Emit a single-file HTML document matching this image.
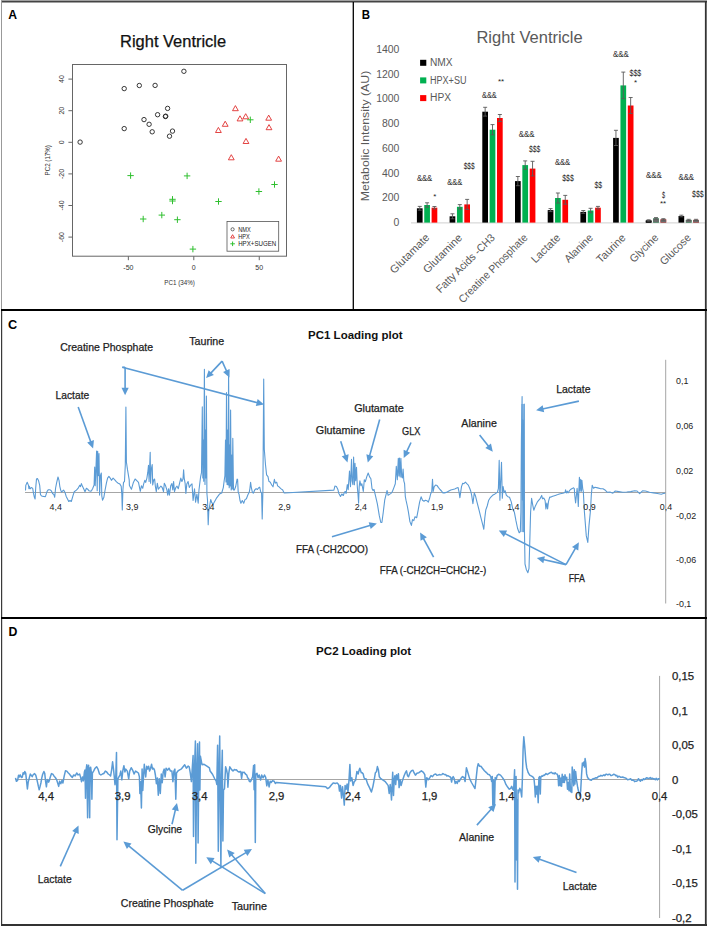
<!DOCTYPE html>
<html><head><meta charset="utf-8"><title>Figure</title>
<style>
html,body{margin:0;padding:0;background:#fff;}
body{width:708px;height:927px;overflow:hidden;}
svg{display:block;font-family:"Liberation Sans", sans-serif;}
</style></head><body>
<svg width="708" height="927" viewBox="0 0 708 927">
<rect width="708" height="927" fill="#fff"/>
<text x="8.2" y="19.0" font-size="12.5" fill="#000" font-weight="bold" textLength="8.8" lengthAdjust="spacingAndGlyphs" >A</text>
<text x="361.7" y="18.8" font-size="12.5" fill="#000" font-weight="bold" textLength="8.3" lengthAdjust="spacingAndGlyphs" >B</text>
<text x="8.0" y="328.6" font-size="12.5" fill="#000" font-weight="bold" textLength="9.2" lengthAdjust="spacingAndGlyphs" >C</text>
<text x="8.5" y="636.0" font-size="12.5" fill="#000" font-weight="bold" textLength="8.9" lengthAdjust="spacingAndGlyphs" >D</text>
<text x="120.1" y="47.4" font-size="16" fill="#111" stroke="#111" stroke-width="0.25" textLength="106.0" lengthAdjust="spacingAndGlyphs" >Right Ventricle</text>
<rect x="72.5" y="64.5" width="214" height="191.7" fill="none" stroke="#666" stroke-width="1"/>
<line x1="68.40" y1="79.10" x2="72.50" y2="79.10" stroke="#666" stroke-width="1" />
<text x="63.6" y="79.1" font-size="7" fill="#333" text-anchor="middle" transform="rotate(-90 63.6 79.1)" >40</text>
<line x1="68.40" y1="110.70" x2="72.50" y2="110.70" stroke="#666" stroke-width="1" />
<text x="63.6" y="110.7" font-size="7" fill="#333" text-anchor="middle" transform="rotate(-90 63.6 110.7)" >20</text>
<line x1="68.40" y1="142.30" x2="72.50" y2="142.30" stroke="#666" stroke-width="1" />
<text x="63.6" y="142.3" font-size="7" fill="#333" text-anchor="middle" transform="rotate(-90 63.6 142.3)" >0</text>
<line x1="68.40" y1="173.90" x2="72.50" y2="173.90" stroke="#666" stroke-width="1" />
<text x="63.6" y="173.9" font-size="7" fill="#333" text-anchor="middle" transform="rotate(-90 63.6 173.9)" >-20</text>
<line x1="68.40" y1="205.50" x2="72.50" y2="205.50" stroke="#666" stroke-width="1" />
<text x="63.6" y="205.5" font-size="7" fill="#333" text-anchor="middle" transform="rotate(-90 63.6 205.5)" >-40</text>
<line x1="68.40" y1="237.10" x2="72.50" y2="237.10" stroke="#666" stroke-width="1" />
<text x="63.6" y="237.1" font-size="7" fill="#333" text-anchor="middle" transform="rotate(-90 63.6 237.1)" >-60</text>
<line x1="128.35" y1="256.20" x2="128.35" y2="260.20" stroke="#666" stroke-width="1" />
<text x="128.4" y="270.3" font-size="7" fill="#333" text-anchor="middle" >-50</text>
<line x1="193.80" y1="256.20" x2="193.80" y2="260.20" stroke="#666" stroke-width="1" />
<text x="193.8" y="270.3" font-size="7" fill="#333" text-anchor="middle" >0</text>
<line x1="259.25" y1="256.20" x2="259.25" y2="260.20" stroke="#666" stroke-width="1" />
<text x="259.2" y="270.3" font-size="7" fill="#333" text-anchor="middle" >50</text>
<text x="179.6" y="285.2" font-size="7" fill="#333" text-anchor="middle" textLength="30.5" lengthAdjust="spacingAndGlyphs" >PC1 (34%)</text>
<text x="49.6" y="160.3" font-size="7" fill="#333" text-anchor="middle" textLength="30.3" lengthAdjust="spacingAndGlyphs" transform="rotate(-90 49.6 160.3)" >PC2 (17%)</text>
<circle cx="183.9" cy="71.3" r="2.2" fill="none" stroke="#222" stroke-width="0.9"/>
<circle cx="124.2" cy="88.6" r="2.2" fill="none" stroke="#222" stroke-width="0.9"/>
<circle cx="139.3" cy="85.5" r="2.2" fill="none" stroke="#222" stroke-width="0.9"/>
<circle cx="155.1" cy="85.4" r="2.2" fill="none" stroke="#222" stroke-width="0.9"/>
<circle cx="167.6" cy="108.4" r="2.2" fill="none" stroke="#222" stroke-width="0.9"/>
<circle cx="157.6" cy="114.7" r="2.2" fill="none" stroke="#222" stroke-width="0.9"/>
<circle cx="165.4" cy="116.5" r="2.2" fill="none" stroke="#222" stroke-width="0.9"/>
<circle cx="165.7" cy="116.2" r="2.2" fill="none" stroke="#222" stroke-width="0.9"/>
<circle cx="144" cy="119.6" r="2.2" fill="none" stroke="#222" stroke-width="0.9"/>
<circle cx="149.1" cy="124.3" r="2.2" fill="none" stroke="#222" stroke-width="0.9"/>
<circle cx="124.2" cy="128.6" r="2.2" fill="none" stroke="#222" stroke-width="0.9"/>
<circle cx="152.2" cy="131.8" r="2.2" fill="none" stroke="#222" stroke-width="0.9"/>
<circle cx="172.5" cy="131.1" r="2.2" fill="none" stroke="#222" stroke-width="0.9"/>
<circle cx="169.5" cy="136.2" r="2.2" fill="none" stroke="#222" stroke-width="0.9"/>
<circle cx="80.1" cy="142.1" r="2.2" fill="none" stroke="#222" stroke-width="0.9"/>
<polygon points="235.4,105.6 232.5,110.7 238.3,110.7" fill="none" stroke="#e0302f" stroke-width="0.9"/>
<polygon points="240.0,115.8 237.1,120.9 242.9,120.9" fill="none" stroke="#e0302f" stroke-width="0.9"/>
<polygon points="245.7,113.7 242.8,118.8 248.6,118.8" fill="none" stroke="#e0302f" stroke-width="0.9"/>
<polygon points="268.7,115.1 265.8,120.2 271.6,120.2" fill="none" stroke="#e0302f" stroke-width="0.9"/>
<polygon points="225.2,121.2 222.3,126.3 228.1,126.3" fill="none" stroke="#e0302f" stroke-width="0.9"/>
<polygon points="269.0,124.6 266.1,129.7 271.9,129.7" fill="none" stroke="#e0302f" stroke-width="0.9"/>
<polygon points="218.4,127.4 215.5,132.5 221.3,132.5" fill="none" stroke="#e0302f" stroke-width="0.9"/>
<polygon points="246.0,138.4 243.1,143.5 248.9,143.5" fill="none" stroke="#e0302f" stroke-width="0.9"/>
<polygon points="231.3,154.7 228.4,159.8 234.2,159.8" fill="none" stroke="#e0302f" stroke-width="0.9"/>
<polygon points="278.6,156.1 275.7,161.2 281.5,161.2" fill="none" stroke="#e0302f" stroke-width="0.9"/>
<line x1="247.10" y1="119.80" x2="253.50" y2="119.80" stroke="#2fbf2f" stroke-width="1" />
<line x1="250.30" y1="116.60" x2="250.30" y2="123.00" stroke="#2fbf2f" stroke-width="1" />
<line x1="127.40" y1="175.60" x2="133.80" y2="175.60" stroke="#2fbf2f" stroke-width="1" />
<line x1="130.60" y1="172.40" x2="130.60" y2="178.80" stroke="#2fbf2f" stroke-width="1" />
<line x1="183.90" y1="175.90" x2="190.30" y2="175.90" stroke="#2fbf2f" stroke-width="1" />
<line x1="187.10" y1="172.70" x2="187.10" y2="179.10" stroke="#2fbf2f" stroke-width="1" />
<line x1="169.30" y1="199.30" x2="175.70" y2="199.30" stroke="#2fbf2f" stroke-width="1" />
<line x1="172.50" y1="196.10" x2="172.50" y2="202.50" stroke="#2fbf2f" stroke-width="1" />
<line x1="169.30" y1="201.00" x2="175.70" y2="201.00" stroke="#2fbf2f" stroke-width="1" />
<line x1="172.50" y1="197.80" x2="172.50" y2="204.20" stroke="#2fbf2f" stroke-width="1" />
<line x1="140.00" y1="219.00" x2="146.40" y2="219.00" stroke="#2fbf2f" stroke-width="1" />
<line x1="143.20" y1="215.80" x2="143.20" y2="222.20" stroke="#2fbf2f" stroke-width="1" />
<line x1="158.60" y1="215.10" x2="165.00" y2="215.10" stroke="#2fbf2f" stroke-width="1" />
<line x1="161.80" y1="211.90" x2="161.80" y2="218.30" stroke="#2fbf2f" stroke-width="1" />
<line x1="174.20" y1="219.70" x2="180.60" y2="219.70" stroke="#2fbf2f" stroke-width="1" />
<line x1="177.40" y1="216.50" x2="177.40" y2="222.90" stroke="#2fbf2f" stroke-width="1" />
<line x1="189.70" y1="249.10" x2="196.10" y2="249.10" stroke="#2fbf2f" stroke-width="1" />
<line x1="192.90" y1="245.90" x2="192.90" y2="252.30" stroke="#2fbf2f" stroke-width="1" />
<line x1="215.30" y1="201.50" x2="221.70" y2="201.50" stroke="#2fbf2f" stroke-width="1" />
<line x1="218.50" y1="198.30" x2="218.50" y2="204.70" stroke="#2fbf2f" stroke-width="1" />
<line x1="255.70" y1="191.50" x2="262.10" y2="191.50" stroke="#2fbf2f" stroke-width="1" />
<line x1="258.90" y1="188.30" x2="258.90" y2="194.70" stroke="#2fbf2f" stroke-width="1" />
<line x1="271.30" y1="184.50" x2="277.70" y2="184.50" stroke="#2fbf2f" stroke-width="1" />
<line x1="274.50" y1="181.30" x2="274.50" y2="187.70" stroke="#2fbf2f" stroke-width="1" />
<rect x="227" y="221.5" width="51.7" height="29.7" fill="#fff" stroke="#555" stroke-width="0.8"/>
<circle cx="232.6" cy="229.3" r="1.6" fill="none" stroke="#333" stroke-width="0.7"/>
<polygon points="232.6,234.7 230.7,238.0 234.5,238.0" fill="none" stroke="#e0302f" stroke-width="0.9"/>
<line x1="230.30" y1="243.80" x2="234.90" y2="243.80" stroke="#2fbf2f" stroke-width="1" />
<line x1="232.60" y1="241.50" x2="232.60" y2="246.10" stroke="#2fbf2f" stroke-width="1" />
<text x="238.2" y="231.8" font-size="7" fill="#222" textLength="12.5" lengthAdjust="spacingAndGlyphs" >NMX</text>
<text x="238.2" y="239.1" font-size="7" fill="#222" textLength="11.5" lengthAdjust="spacingAndGlyphs" >HPX</text>
<text x="238.2" y="246.4" font-size="7" fill="#222" textLength="38.0" lengthAdjust="spacingAndGlyphs" >HPX+SUGEN</text>
<text x="476.4" y="42.8" font-size="16" fill="#595959" textLength="106.3" lengthAdjust="spacingAndGlyphs" >Right Ventricle</text>
<text x="399.4" y="226.1" font-size="10" fill="#595959" text-anchor="end" textLength="5.8" lengthAdjust="spacingAndGlyphs" >0</text>
<text x="399.4" y="201.3" font-size="10" fill="#595959" text-anchor="end" textLength="17.4" lengthAdjust="spacingAndGlyphs" >200</text>
<text x="399.4" y="176.6" font-size="10" fill="#595959" text-anchor="end" textLength="17.4" lengthAdjust="spacingAndGlyphs" >400</text>
<text x="399.4" y="151.8" font-size="10" fill="#595959" text-anchor="end" textLength="17.4" lengthAdjust="spacingAndGlyphs" >600</text>
<text x="399.4" y="127.1" font-size="10" fill="#595959" text-anchor="end" textLength="17.4" lengthAdjust="spacingAndGlyphs" >800</text>
<text x="399.4" y="102.3" font-size="10" fill="#595959" text-anchor="end" textLength="23.2" lengthAdjust="spacingAndGlyphs" >1000</text>
<text x="399.4" y="77.6" font-size="10" fill="#595959" text-anchor="end" textLength="23.2" lengthAdjust="spacingAndGlyphs" >1200</text>
<text x="399.4" y="52.8" font-size="10" fill="#595959" text-anchor="end" textLength="23.2" lengthAdjust="spacingAndGlyphs" >1400</text>
<text x="368.6" y="136.0" font-size="11.3" fill="#595959" text-anchor="middle" textLength="130.5" lengthAdjust="spacingAndGlyphs" transform="rotate(-90 368.6 136.0)" >Metabolic Intensity (AU)</text>
<rect x="420.10" y="59.80" width="6.20" height="6.00" fill="#000"/>
<text x="430.0" y="66.0" font-size="10" fill="#595959" textLength="22.6" lengthAdjust="spacingAndGlyphs" >NMX</text>
<rect x="420.10" y="77.40" width="6.20" height="6.00" fill="#00b050"/>
<text x="430.0" y="83.6" font-size="10" fill="#595959" textLength="36.5" lengthAdjust="spacingAndGlyphs" >HPX+SU</text>
<rect x="420.10" y="95.10" width="6.20" height="6.00" fill="#f00"/>
<text x="430.0" y="101.3" font-size="10" fill="#595959" textLength="21.0" lengthAdjust="spacingAndGlyphs" >HPX</text>
<line x1="411.00" y1="222.90" x2="705.00" y2="222.90" stroke="#d9d9d9" stroke-width="1.2" />
<rect x="416.90" y="208.30" width="5.70" height="14.30" fill="#000"/>
<rect x="424.25" y="205.00" width="5.70" height="17.60" fill="#00b050"/>
<rect x="431.60" y="207.70" width="5.70" height="14.90" fill="#f00"/>
<line x1="419.75" y1="206.40" x2="419.75" y2="210.20" stroke="#595959" stroke-width="0.9" />
<line x1="417.75" y1="206.40" x2="421.75" y2="206.40" stroke="#595959" stroke-width="0.9" />
<line x1="417.75" y1="210.20" x2="421.75" y2="210.20" stroke="#595959" stroke-width="0.9" />
<line x1="427.10" y1="202.80" x2="427.10" y2="207.20" stroke="#595959" stroke-width="0.9" />
<line x1="425.10" y1="202.80" x2="429.10" y2="202.80" stroke="#595959" stroke-width="0.9" />
<line x1="425.10" y1="207.20" x2="429.10" y2="207.20" stroke="#595959" stroke-width="0.9" />
<line x1="434.45" y1="206.50" x2="434.45" y2="208.90" stroke="#595959" stroke-width="0.9" />
<line x1="432.45" y1="206.50" x2="436.45" y2="206.50" stroke="#595959" stroke-width="0.9" />
<line x1="432.45" y1="208.90" x2="436.45" y2="208.90" stroke="#595959" stroke-width="0.9" />
<rect x="449.60" y="216.30" width="5.70" height="6.30" fill="#000"/>
<rect x="456.95" y="206.80" width="5.70" height="15.80" fill="#00b050"/>
<rect x="464.30" y="204.40" width="5.70" height="18.20" fill="#f00"/>
<line x1="452.45" y1="213.80" x2="452.45" y2="218.80" stroke="#595959" stroke-width="0.9" />
<line x1="450.45" y1="213.80" x2="454.45" y2="213.80" stroke="#595959" stroke-width="0.9" />
<line x1="450.45" y1="218.80" x2="454.45" y2="218.80" stroke="#595959" stroke-width="0.9" />
<line x1="459.80" y1="204.60" x2="459.80" y2="209.00" stroke="#595959" stroke-width="0.9" />
<line x1="457.80" y1="204.60" x2="461.80" y2="204.60" stroke="#595959" stroke-width="0.9" />
<line x1="457.80" y1="209.00" x2="461.80" y2="209.00" stroke="#595959" stroke-width="0.9" />
<line x1="467.15" y1="199.40" x2="467.15" y2="209.40" stroke="#595959" stroke-width="0.9" />
<line x1="465.15" y1="199.40" x2="469.15" y2="199.40" stroke="#595959" stroke-width="0.9" />
<line x1="465.15" y1="209.40" x2="469.15" y2="209.40" stroke="#595959" stroke-width="0.9" />
<rect x="482.30" y="111.70" width="5.70" height="110.90" fill="#000"/>
<rect x="489.65" y="129.70" width="5.70" height="92.90" fill="#00b050"/>
<rect x="497.00" y="118.00" width="5.70" height="104.60" fill="#f00"/>
<line x1="485.15" y1="107.30" x2="485.15" y2="116.10" stroke="#595959" stroke-width="0.9" />
<line x1="483.15" y1="107.30" x2="487.15" y2="107.30" stroke="#595959" stroke-width="0.9" />
<line x1="483.15" y1="116.10" x2="487.15" y2="116.10" stroke="#595959" stroke-width="0.9" />
<line x1="492.50" y1="124.60" x2="492.50" y2="134.80" stroke="#595959" stroke-width="0.9" />
<line x1="490.50" y1="124.60" x2="494.50" y2="124.60" stroke="#595959" stroke-width="0.9" />
<line x1="490.50" y1="134.80" x2="494.50" y2="134.80" stroke="#595959" stroke-width="0.9" />
<line x1="499.85" y1="114.50" x2="499.85" y2="121.50" stroke="#595959" stroke-width="0.9" />
<line x1="497.85" y1="114.50" x2="501.85" y2="114.50" stroke="#595959" stroke-width="0.9" />
<line x1="497.85" y1="121.50" x2="501.85" y2="121.50" stroke="#595959" stroke-width="0.9" />
<rect x="515.00" y="181.10" width="5.70" height="41.50" fill="#000"/>
<rect x="522.35" y="165.10" width="5.70" height="57.50" fill="#00b050"/>
<rect x="529.70" y="168.60" width="5.70" height="54.00" fill="#f00"/>
<line x1="517.85" y1="176.50" x2="517.85" y2="185.70" stroke="#595959" stroke-width="0.9" />
<line x1="515.85" y1="176.50" x2="519.85" y2="176.50" stroke="#595959" stroke-width="0.9" />
<line x1="515.85" y1="185.70" x2="519.85" y2="185.70" stroke="#595959" stroke-width="0.9" />
<line x1="525.20" y1="160.90" x2="525.20" y2="169.30" stroke="#595959" stroke-width="0.9" />
<line x1="523.20" y1="160.90" x2="527.20" y2="160.90" stroke="#595959" stroke-width="0.9" />
<line x1="523.20" y1="169.30" x2="527.20" y2="169.30" stroke="#595959" stroke-width="0.9" />
<line x1="532.55" y1="161.30" x2="532.55" y2="175.90" stroke="#595959" stroke-width="0.9" />
<line x1="530.55" y1="161.30" x2="534.55" y2="161.30" stroke="#595959" stroke-width="0.9" />
<line x1="530.55" y1="175.90" x2="534.55" y2="175.90" stroke="#595959" stroke-width="0.9" />
<rect x="547.70" y="210.10" width="5.70" height="12.50" fill="#000"/>
<rect x="555.05" y="198.00" width="5.70" height="24.60" fill="#00b050"/>
<rect x="562.40" y="199.80" width="5.70" height="22.80" fill="#f00"/>
<line x1="550.55" y1="208.60" x2="550.55" y2="211.60" stroke="#595959" stroke-width="0.9" />
<line x1="548.55" y1="208.60" x2="552.55" y2="208.60" stroke="#595959" stroke-width="0.9" />
<line x1="548.55" y1="211.60" x2="552.55" y2="211.60" stroke="#595959" stroke-width="0.9" />
<line x1="557.90" y1="193.00" x2="557.90" y2="203.00" stroke="#595959" stroke-width="0.9" />
<line x1="555.90" y1="193.00" x2="559.90" y2="193.00" stroke="#595959" stroke-width="0.9" />
<line x1="555.90" y1="203.00" x2="559.90" y2="203.00" stroke="#595959" stroke-width="0.9" />
<line x1="565.25" y1="195.40" x2="565.25" y2="204.20" stroke="#595959" stroke-width="0.9" />
<line x1="563.25" y1="195.40" x2="567.25" y2="195.40" stroke="#595959" stroke-width="0.9" />
<line x1="563.25" y1="204.20" x2="567.25" y2="204.20" stroke="#595959" stroke-width="0.9" />
<rect x="580.40" y="211.90" width="5.70" height="10.70" fill="#000"/>
<rect x="587.75" y="210.50" width="5.70" height="12.10" fill="#00b050"/>
<rect x="595.10" y="207.70" width="5.70" height="14.90" fill="#f00"/>
<line x1="583.25" y1="210.50" x2="583.25" y2="213.30" stroke="#595959" stroke-width="0.9" />
<line x1="581.25" y1="210.50" x2="585.25" y2="210.50" stroke="#595959" stroke-width="0.9" />
<line x1="581.25" y1="213.30" x2="585.25" y2="213.30" stroke="#595959" stroke-width="0.9" />
<line x1="590.60" y1="208.30" x2="590.60" y2="212.70" stroke="#595959" stroke-width="0.9" />
<line x1="588.60" y1="208.30" x2="592.60" y2="208.30" stroke="#595959" stroke-width="0.9" />
<line x1="588.60" y1="212.70" x2="592.60" y2="212.70" stroke="#595959" stroke-width="0.9" />
<line x1="597.95" y1="206.40" x2="597.95" y2="209.00" stroke="#595959" stroke-width="0.9" />
<line x1="595.95" y1="206.40" x2="599.95" y2="206.40" stroke="#595959" stroke-width="0.9" />
<line x1="595.95" y1="209.00" x2="599.95" y2="209.00" stroke="#595959" stroke-width="0.9" />
<rect x="613.10" y="137.90" width="5.70" height="84.70" fill="#000"/>
<rect x="620.45" y="85.40" width="5.70" height="137.20" fill="#00b050"/>
<rect x="627.80" y="105.50" width="5.70" height="117.10" fill="#f00"/>
<line x1="615.95" y1="130.30" x2="615.95" y2="145.50" stroke="#595959" stroke-width="0.9" />
<line x1="613.95" y1="130.30" x2="617.95" y2="130.30" stroke="#595959" stroke-width="0.9" />
<line x1="613.95" y1="145.50" x2="617.95" y2="145.50" stroke="#595959" stroke-width="0.9" />
<line x1="623.30" y1="72.10" x2="623.30" y2="98.70" stroke="#595959" stroke-width="0.9" />
<line x1="621.30" y1="72.10" x2="625.30" y2="72.10" stroke="#595959" stroke-width="0.9" />
<line x1="621.30" y1="98.70" x2="625.30" y2="98.70" stroke="#595959" stroke-width="0.9" />
<line x1="630.65" y1="97.50" x2="630.65" y2="113.50" stroke="#595959" stroke-width="0.9" />
<line x1="628.65" y1="97.50" x2="632.65" y2="97.50" stroke="#595959" stroke-width="0.9" />
<line x1="628.65" y1="113.50" x2="632.65" y2="113.50" stroke="#595959" stroke-width="0.9" />
<rect x="645.80" y="220.50" width="5.70" height="2.10" fill="#000"/>
<rect x="653.15" y="218.40" width="5.70" height="4.20" fill="#00b050"/>
<rect x="660.50" y="219.40" width="5.70" height="3.20" fill="#f00"/>
<rect x="645.80" y="220.50" width="5.70" height="2.10" fill="#000"/>
<line x1="648.65" y1="219.80" x2="648.65" y2="221.20" stroke="#595959" stroke-width="0.9" />
<line x1="646.65" y1="219.80" x2="650.65" y2="219.80" stroke="#595959" stroke-width="0.9" />
<line x1="646.65" y1="221.20" x2="650.65" y2="221.20" stroke="#595959" stroke-width="0.9" />
<rect x="653.15" y="218.40" width="5.70" height="4.20" fill="#6a6a6a"/>
<line x1="656.00" y1="217.60" x2="656.00" y2="219.20" stroke="#595959" stroke-width="0.9" />
<line x1="654.00" y1="217.60" x2="658.00" y2="217.60" stroke="#595959" stroke-width="0.9" />
<line x1="654.00" y1="219.20" x2="658.00" y2="219.20" stroke="#595959" stroke-width="0.9" />
<rect x="660.50" y="219.40" width="5.70" height="3.20" fill="#6a6a6a"/>
<line x1="663.35" y1="218.70" x2="663.35" y2="220.10" stroke="#595959" stroke-width="0.9" />
<line x1="661.35" y1="218.70" x2="665.35" y2="218.70" stroke="#595959" stroke-width="0.9" />
<line x1="661.35" y1="220.10" x2="665.35" y2="220.10" stroke="#595959" stroke-width="0.9" />
<rect x="678.50" y="216.00" width="5.70" height="6.60" fill="#000"/>
<rect x="685.85" y="219.90" width="5.70" height="2.70" fill="#00b050"/>
<rect x="693.20" y="219.90" width="5.70" height="2.70" fill="#f00"/>
<line x1="681.35" y1="215.20" x2="681.35" y2="216.80" stroke="#595959" stroke-width="0.9" />
<line x1="679.35" y1="215.20" x2="683.35" y2="215.20" stroke="#595959" stroke-width="0.9" />
<line x1="679.35" y1="216.80" x2="683.35" y2="216.80" stroke="#595959" stroke-width="0.9" />
<rect x="685.85" y="219.90" width="5.70" height="2.70" fill="#6a6a6a"/>
<line x1="688.70" y1="219.30" x2="688.70" y2="220.50" stroke="#595959" stroke-width="0.9" />
<line x1="686.70" y1="219.30" x2="690.70" y2="219.30" stroke="#595959" stroke-width="0.9" />
<line x1="686.70" y1="220.50" x2="690.70" y2="220.50" stroke="#595959" stroke-width="0.9" />
<rect x="693.20" y="219.90" width="5.70" height="2.70" fill="#6a6a6a"/>
<line x1="696.05" y1="219.30" x2="696.05" y2="220.50" stroke="#595959" stroke-width="0.9" />
<line x1="694.05" y1="219.30" x2="698.05" y2="219.30" stroke="#595959" stroke-width="0.9" />
<line x1="694.05" y1="220.50" x2="698.05" y2="220.50" stroke="#595959" stroke-width="0.9" />
<text x="416.9" y="181.3" font-size="8.4" fill="#262626" textLength="15.3" lengthAdjust="spacingAndGlyphs" >&amp;&amp;&amp;</text>
<text x="434.8" y="199.4" font-size="8" fill="#222" text-anchor="middle" >*</text>
<text x="447.2" y="185.0" font-size="8.4" fill="#262626" textLength="15.0" lengthAdjust="spacingAndGlyphs" >&amp;&amp;&amp;</text>
<text x="463.7" y="169.0" font-size="8.4" fill="#262626" textLength="11.0" lengthAdjust="spacingAndGlyphs" >$$$</text>
<text x="482.1" y="98.2" font-size="8.4" fill="#262626" textLength="14.6" lengthAdjust="spacingAndGlyphs" >&amp;&amp;&amp;</text>
<text x="501.1" y="83.8" font-size="8" fill="#222" text-anchor="middle" >**</text>
<text x="518.8" y="137.0" font-size="8.4" fill="#262626" textLength="15.6" lengthAdjust="spacingAndGlyphs" >&amp;&amp;&amp;</text>
<text x="528.9" y="152.0" font-size="8.4" fill="#262626" textLength="11.3" lengthAdjust="spacingAndGlyphs" >$$$</text>
<text x="554.9" y="164.5" font-size="8.4" fill="#262626" textLength="15.2" lengthAdjust="spacingAndGlyphs" >&amp;&amp;&amp;</text>
<text x="562.2" y="180.8" font-size="8.4" fill="#262626" textLength="11.6" lengthAdjust="spacingAndGlyphs" >$$$</text>
<text x="594.5" y="187.8" font-size="8.4" fill="#262626" textLength="7.7" lengthAdjust="spacingAndGlyphs" >$$</text>
<text x="613.1" y="57.2" font-size="8.4" fill="#262626" textLength="15.7" lengthAdjust="spacingAndGlyphs" >&amp;&amp;&amp;</text>
<text x="629.5" y="76.1" font-size="8.4" fill="#262626" textLength="11.8" lengthAdjust="spacingAndGlyphs" >$$$</text>
<text x="635.5" y="84.7" font-size="8" fill="#222" text-anchor="middle" >*</text>
<text x="646.1" y="177.6" font-size="8.4" fill="#262626" textLength="15.7" lengthAdjust="spacingAndGlyphs" >&amp;&amp;&amp;</text>
<text x="661.9" y="198.0" font-size="8.4" fill="#262626" textLength="3.1" lengthAdjust="spacingAndGlyphs" >$</text>
<text x="663.0" y="206.2" font-size="8" fill="#222" text-anchor="middle" >**</text>
<text x="678.5" y="180.4" font-size="8.4" fill="#262626" textLength="15.5" lengthAdjust="spacingAndGlyphs" >&amp;&amp;&amp;</text>
<text x="692.0" y="196.5" font-size="8.4" fill="#262626" textLength="11.7" lengthAdjust="spacingAndGlyphs" >$$$</text>
<text x="430.2" y="238.3" font-size="11" fill="#595959" text-anchor="end" textLength="50.7" lengthAdjust="spacingAndGlyphs" transform="rotate(-45 430.2 238.3)" >Glutamate</text>
<text x="462.9" y="238.3" font-size="11" fill="#595959" text-anchor="end" textLength="50.1" lengthAdjust="spacingAndGlyphs" transform="rotate(-45 462.9 238.3)" >Glutamine</text>
<text x="495.6" y="238.3" font-size="11" fill="#595959" text-anchor="end" textLength="78.0" lengthAdjust="spacingAndGlyphs" transform="rotate(-45 495.6 238.3)" >Fatty Acids -CH3</text>
<text x="528.3" y="238.3" font-size="11" fill="#595959" text-anchor="end" textLength="92.4" lengthAdjust="spacingAndGlyphs" transform="rotate(-45 528.3 238.3)" >Creatine Phosphate</text>
<text x="561.0" y="238.3" font-size="11" fill="#595959" text-anchor="end" textLength="36.1" lengthAdjust="spacingAndGlyphs" transform="rotate(-45 561.0 238.3)" >Lactate</text>
<text x="593.7" y="238.3" font-size="11" fill="#595959" text-anchor="end" textLength="35.4" lengthAdjust="spacingAndGlyphs" transform="rotate(-45 593.7 238.3)" >Alanine</text>
<text x="626.4" y="238.3" font-size="11" fill="#595959" text-anchor="end" textLength="36.1" lengthAdjust="spacingAndGlyphs" transform="rotate(-45 626.4 238.3)" >Taurine</text>
<text x="659.1" y="238.3" font-size="11" fill="#595959" text-anchor="end" textLength="35.4" lengthAdjust="spacingAndGlyphs" transform="rotate(-45 659.1 238.3)" >Glycine</text>
<text x="691.8" y="238.3" font-size="11" fill="#595959" text-anchor="end" textLength="38.9" lengthAdjust="spacingAndGlyphs" transform="rotate(-45 691.8 238.3)" >Glucose</text>
<text x="308.1" y="339.0" font-size="11.4" fill="#111" font-weight="bold" textLength="94.4" lengthAdjust="spacingAndGlyphs" >PC1 Loading plot</text>
<line x1="25.00" y1="492.50" x2="666.00" y2="492.50" stroke="#a6a6a6" stroke-width="1" />
<line x1="665.70" y1="359.80" x2="665.70" y2="603.50" stroke="#a6a6a6" stroke-width="1" />
<rect x="521.2" y="404" width="3.4" height="128" fill="#8ab7e4" opacity="0.85"/><polyline points="25.5,490.5 25.8,485.4 27.2,482.2 28.5,485.4 28.9,488.8 29.3,486.3 30.2,488.8 31.4,487.5 32.7,488.4 33.6,493.9 34.4,497.3 35.1,499.0 35.7,488.0 36.5,479.1 37.4,478.6 38.6,480.8 39.7,485.4 40.5,494.7 41.6,496.0 43.3,496.4 45.4,496.6 47.1,491.4 48.4,489.7 50.1,489.8 51.4,490.9 52.6,493.5 53.9,494.7 54.7,497.3 55.6,488.0 56.6,482.9 58.0,477.0 59.0,480.3 59.8,486.3 60.7,490.1 61.5,492.0 63.6,490.1 64.9,492.2 66.2,496.4 67.9,499.8 68.7,501.5 70.0,500.5 71.3,501.5 73.0,495.6 74.2,491.8 76.4,490.1 78.0,488.4 79.7,485.3 80.5,486.6 81.4,483.6 82.6,486.6 83.9,489.2 85.0,491.7 86.4,488.3 87.7,489.2 89.0,490.8 90.7,491.3 91.5,490.8 92.8,488.3 94.1,484.9 94.7,467.1 95.2,485.8 95.8,472.2 96.6,451.0 97.2,490.8 97.7,451.4 98.3,475.6 99.0,453.6 99.6,495.1 100.4,475.6 101.3,473.0 101.8,495.9 102.5,500.2 103.8,497.6 105.1,490.0 106.4,483.2 107.6,478.1 108.9,476.4 110.2,478.1 111.4,480.3 113.1,478.1 114.8,479.8 116.5,481.9 118.2,483.2 119.9,484.1 121.2,486.2 121.8,494.2 122.3,510.0 122.9,490.0 123.5,482.4 124.5,481.5 125.3,465.0 125.9,407.1 126.4,462.0 127.5,469.7 129.2,479.8 129.4,485.4 131.4,489.3 133.4,482.4 135.1,479.0 136.8,480.7 138.5,482.4 139.7,488.3 140.3,491.3 141.4,485.8 142.7,488.3 143.6,484.1 144.8,480.3 145.7,482.4 146.9,478.1 147.8,472.2 148.5,465.4 149.1,481.5 149.7,465.4 150.2,452.3 150.6,483.2 151.2,469.7 152.2,464.6 152.7,484.9 153.7,479.8 154.6,479.0 155.4,486.6 156.3,491.7 157.3,483.2 158.4,489.2 159.7,487.5 160.9,486.2 162.2,487.5 163.5,491.7 164.3,483.2 165.6,485.8 166.9,490.0 167.7,495.1 168.6,488.7 169.4,495.1 170.7,485.8 171.9,483.6 172.8,490.0 173.6,481.5 174.5,491.7 175.8,487.5 177.0,486.2 178.3,488.7 179.6,483.2 180.8,478.1 181.9,481.5 183.0,479.0 183.6,469.7 184.2,478.1 185.1,483.2 185.9,493.4 186.8,484.1 188.1,481.5 189.3,487.5 190.4,485.4 192.0,483.8 193.1,500.5 194.5,488.7 195.6,502.2 196.9,494.1 198.2,503.2 199.0,489.7 200.6,476.8 201.5,472.7 202.3,406.9 202.8,478.0 203.3,440.0 203.7,481.3 204.4,369.3 205.0,484.5 205.5,430.0 205.9,478.0 206.4,396.0 206.9,493.2 207.5,500.0 208.2,524.8 208.8,511.0 209.3,508.0 210.7,499.5 211.8,502.7 213.1,504.3 216.3,498.4 219.5,494.1 221.7,493.0 223.3,487.6 224.1,481.3 224.9,475.7 225.5,440.0 226.0,482.0 226.5,392.6 227.1,484.5 227.6,430.0 228.1,485.0 228.6,370.2 229.2,487.8 229.7,445.0 230.1,486.0 230.6,410.1 231.2,490.0 231.8,455.0 232.3,489.0 232.8,438.2 233.5,490.0 234.4,490.0 235.7,486.5 237.1,479.1 237.6,479.5 238.2,492.1 239.0,494.1 240.0,500.5 240.9,503.3 242.3,500.6 243.7,503.3 245.0,499.6 246.4,498.7 247.8,495.0 249.2,492.3 249.9,488.6 250.6,482.2 251.2,486.8 252.4,492.3 253.3,493.2 254.7,490.0 256.1,488.6 257.4,489.5 258.8,487.7 259.7,487.2 260.6,491.4 261.6,493.2 262.2,518.9 262.9,491.4 263.7,379.1 264.3,449.2 265.5,464.8 266.6,474.9 268.0,476.7 268.9,481.3 270.3,482.2 271.7,485.0 273.0,486.8 274.4,479.4 275.3,483.1 276.7,482.2 277.6,485.9 279.0,486.8 280.8,488.6 282.7,490.0 284.0,492.8 284.5,493.0 333.9,490.1 334.9,486.1 336.4,486.6 337.9,489.6 338.9,493.5 340.5,496.5 341.8,494.0 343.3,495.5 344.3,492.5 345.3,491.5 346.1,493.5 347.3,484.6 348.2,489.6 349.5,471.1 350.5,486.6 351.5,459.4 352.1,480.8 352.9,484.7 353.6,457.0 354.4,484.7 355.0,463.3 355.7,480.8 356.5,467.2 357.3,486.6 358.0,494.4 358.6,503.1 359.2,486.6 359.9,480.8 360.9,485.6 361.8,483.7 363.3,491.5 364.3,479.8 365.4,481.7 366.7,476.9 368.2,473.0 369.6,476.9 370.9,478.8 372.0,488.5 373.0,490.5 374.0,489.5 375.4,495.3 377.4,504.1 379.3,515.7 380.8,522.5 381.9,522.5 383.2,512.8 384.7,500.2 386.1,494.4 387.1,490.5 388.1,495.3 389.5,494.4 391.0,493.4 392.4,491.5 393.9,487.6 395.3,483.7 396.3,466.2 397.3,479.8 398.3,458.4 398.9,475.9 399.5,458.0 400.2,476.9 400.9,458.4 401.7,476.9 402.4,477.9 403.1,469.1 403.8,480.8 404.6,483.7 405.3,496.3 406.0,500.2 407.3,506.0 408.4,511.8 409.9,521.6 411.4,525.4 412.5,519.6 413.8,520.6 415.0,516.7 416.7,517.7 418.2,509.9 419.6,502.1 421.1,496.8 422.5,500.2 424.0,501.2 425.4,500.2 426.9,500.7 428.3,502.1 429.6,498.3 430.8,493.4 431.7,492.4 432.5,479.3 433.2,491.5 434.2,486.6 435.6,485.1 437.1,485.6 438.5,487.6 440.0,489.5 441.5,491.0 442.9,492.9 444.4,492.9 446.3,492.4 448.9,491.0 450.8,490.0 452.8,489.5 454.7,489.0 456.7,488.1 458.1,487.6 459.1,492.4 459.9,497.8 460.5,493.4 461.5,486.6 462.7,483.2 463.9,483.7 465.4,482.2 466.8,483.7 468.3,485.1 469.8,488.5 470.7,491.0 471.7,495.3 472.9,503.6 473.6,498.3 474.3,492.9 475.6,496.3 477.0,502.1 479.0,509.9 480.9,517.7 482.9,525.4 483.8,529.3 484.8,517.7 485.8,509.9 487.2,506.0 488.7,500.2 490.6,497.3 492.6,495.3 495.0,493.9 497.4,492.4 498.4,488.5 499.2,460.4 499.9,500.2 500.8,478.8 501.5,462.3 502.3,498.3 503.1,486.6 504.2,492.4 505.2,490.8 506.3,495.1 507.9,496.7 509.5,497.2 511.2,501.6 512.8,509.1 514.4,512.3 516.0,520.9 517.6,528.5 519.2,532.8 520.3,531.7 520.9,512.3 521.4,440.0 522.1,396.5 522.4,500.0 522.8,420.0 523.2,531.7 523.6,450.0 524.2,404.0 524.5,533.9 525.0,564.0 526.3,569.4 527.9,572.7 529.0,568.4 529.7,544.7 530.6,512.3 531.6,498.3 532.7,504.8 533.8,510.2 535.4,505.9 537.6,501.6 540.3,498.3 541.7,495.4 542.5,498.8 543.8,498.0 545.1,500.5 545.9,509.0 546.8,503.0 547.6,509.0 548.5,501.4 549.7,497.1 551.0,497.1 552.7,496.3 555.3,495.4 557.8,494.6 560.3,493.7 562.9,493.3 565.0,492.5 565.6,489.9 566.3,492.9 567.3,491.2 568.0,492.9 569.2,491.2 570.5,489.5 572.2,488.6 573.5,487.8 574.3,488.6 574.7,494.6 575.6,503.0 576.4,495.4 577.1,488.2 577.7,495.4 578.3,506.4 578.8,492.0 579.4,477.2 580.0,491.2 580.7,479.3 581.4,491.2 581.9,480.2 582.8,489.5 583.3,491.3 584.4,511.7 586.3,535.9 587.8,542.4 589.0,525.4 590.5,510.2 591.3,495.1 592.2,485.3 593.5,488.3 595.0,487.2 597.7,487.9 600.7,488.7 603.0,488.8 605.4,490.3 607.4,492.3 609.9,492.0 612.9,493.2 615.3,491.0 618.8,491.6 622.7,492.3 626.7,492.0 630.7,491.6 634.6,490.8 637.1,491.0 639.6,493.7 642.5,490.8 645.5,491.0 649.5,492.3 653.4,492.9 657.4,493.5 661.3,494.2 663.3,493.5 665.3,493.2" fill="none" stroke="#5b9bd5" stroke-width="1.1" stroke-linejoin="round"/>
<text x="676.0" y="384.4" font-size="8.9" fill="#222" >0,1</text>
<text x="676.0" y="429.4" font-size="8.9" fill="#222" >0,06</text>
<text x="676.0" y="474.0" font-size="8.9" fill="#222" >0,02</text>
<text x="676.0" y="518.6" font-size="8.9" fill="#222" >-0,02</text>
<text x="676.0" y="563.2" font-size="8.9" fill="#222" >-0,06</text>
<text x="676.0" y="607.4" font-size="8.9" fill="#222" >-0,1</text>
<text x="55.7" y="509.9" font-size="8.9" fill="#222" text-anchor="middle" >4,4</text>
<text x="132.2" y="509.9" font-size="8.9" fill="#222" text-anchor="middle" >3,9</text>
<text x="208.3" y="509.9" font-size="8.9" fill="#222" text-anchor="middle" >3,4</text>
<text x="284.5" y="509.9" font-size="8.9" fill="#222" text-anchor="middle" >2,9</text>
<text x="360.8" y="509.9" font-size="8.9" fill="#222" text-anchor="middle" >2,4</text>
<text x="437.1" y="509.9" font-size="8.9" fill="#222" text-anchor="middle" >1,9</text>
<text x="513.4" y="509.9" font-size="8.9" fill="#222" text-anchor="middle" >1,4</text>
<text x="589.5" y="509.9" font-size="8.9" fill="#222" text-anchor="middle" >0,9</text>
<text x="666.0" y="509.9" font-size="8.9" fill="#222" text-anchor="middle" >0,4</text>
<text x="60.2" y="351.1" font-size="10.6" fill="#222" stroke="#222" stroke-width="0.25" textLength="92.8" lengthAdjust="spacingAndGlyphs" >Creatine Phosphate</text>
<text x="189.2" y="344.9" font-size="10.6" fill="#222" stroke="#222" stroke-width="0.25" textLength="35.0" lengthAdjust="spacingAndGlyphs" >Taurine</text>
<text x="55.6" y="399.2" font-size="10.6" fill="#222" stroke="#222" stroke-width="0.25" textLength="33.6" lengthAdjust="spacingAndGlyphs" >Lactate</text>
<text x="354.2" y="411.9" font-size="10.6" fill="#222" stroke="#222" stroke-width="0.25" textLength="49.5" lengthAdjust="spacingAndGlyphs" >Glutamate</text>
<text x="315.8" y="433.6" font-size="10.6" fill="#222" stroke="#222" stroke-width="0.25" textLength="49.1" lengthAdjust="spacingAndGlyphs" >Glutamine</text>
<text x="402.1" y="434.8" font-size="10.6" fill="#222" stroke="#222" stroke-width="0.25" textLength="18.4" lengthAdjust="spacingAndGlyphs" >GLX</text>
<text x="461.3" y="427.2" font-size="10.6" fill="#222" stroke="#222" stroke-width="0.25" textLength="35.5" lengthAdjust="spacingAndGlyphs" >Alanine</text>
<text x="556.2" y="393.3" font-size="10.6" fill="#222" stroke="#222" stroke-width="0.25" textLength="34.3" lengthAdjust="spacingAndGlyphs" >Lactate</text>
<text x="296.0" y="553.3" font-size="10.6" fill="#222" stroke="#222" stroke-width="0.25" textLength="72.0" lengthAdjust="spacingAndGlyphs" >FFA (-CH2COO)</text>
<text x="379.7" y="574.0" font-size="10.6" fill="#222" stroke="#222" stroke-width="0.25" textLength="106.6" lengthAdjust="spacingAndGlyphs" >FFA (-CH2CH=CHCH2-)</text>
<text x="568.7" y="582.0" font-size="10.6" fill="#222" stroke="#222" stroke-width="0.25" textLength="16.2" lengthAdjust="spacingAndGlyphs" >FFA</text>
<line x1="122.30" y1="367.30" x2="125.10" y2="367.30" stroke="#5b9bd5" stroke-width="1.6" />
<line x1="125.10" y1="367.30" x2="125.10" y2="388.80" stroke="#5b9bd5" stroke-width="1.6" />
<polygon points="125.10,395.30 121.50,387.80 128.70,387.80" fill="#5b9bd5"/>
<line x1="122.30" y1="367.30" x2="257.71" y2="402.85" stroke="#5b9bd5" stroke-width="1.6" />
<polygon points="264.00,404.50 255.83,406.08 257.66,399.11" fill="#5b9bd5"/>
<line x1="222.10" y1="361.10" x2="210.55" y2="373.37" stroke="#5b9bd5" stroke-width="1.6" />
<polygon points="206.10,378.10 208.62,370.17 213.86,375.11" fill="#5b9bd5"/>
<line x1="222.10" y1="361.10" x2="226.74" y2="371.47" stroke="#5b9bd5" stroke-width="1.6" />
<polygon points="229.40,377.40 223.05,372.03 229.62,369.08" fill="#5b9bd5"/>
<line x1="78.20" y1="407.10" x2="90.89" y2="442.29" stroke="#5b9bd5" stroke-width="1.6" />
<polygon points="93.10,448.40 87.17,442.57 93.94,440.12" fill="#5b9bd5"/>
<line x1="340.70" y1="441.20" x2="345.51" y2="456.21" stroke="#5b9bd5" stroke-width="1.6" />
<polygon points="347.50,462.40 341.78,456.36 348.64,454.16" fill="#5b9bd5"/>
<line x1="379.70" y1="419.50" x2="369.54" y2="456.14" stroke="#5b9bd5" stroke-width="1.6" />
<polygon points="367.80,462.40 366.34,454.21 373.27,456.14" fill="#5b9bd5"/>
<line x1="411.00" y1="442.50" x2="406.45" y2="452.21" stroke="#5b9bd5" stroke-width="1.6" />
<polygon points="403.70,458.10 403.62,449.78 410.14,452.83" fill="#5b9bd5"/>
<line x1="479.60" y1="435.10" x2="488.75" y2="446.61" stroke="#5b9bd5" stroke-width="1.6" />
<polygon points="492.80,451.70 485.31,448.07 490.95,443.59" fill="#5b9bd5"/>
<line x1="578.90" y1="401.10" x2="542.45" y2="408.93" stroke="#5b9bd5" stroke-width="1.6" />
<polygon points="536.10,410.30 542.68,405.20 544.19,412.24" fill="#5b9bd5"/>
<line x1="332.00" y1="536.70" x2="370.66" y2="525.33" stroke="#5b9bd5" stroke-width="1.6" />
<polygon points="376.90,523.50 370.72,529.07 368.69,522.16" fill="#5b9bd5"/>
<line x1="433.60" y1="557.10" x2="423.22" y2="538.10" stroke="#5b9bd5" stroke-width="1.6" />
<polygon points="420.10,532.40 426.86,537.25 420.54,540.71" fill="#5b9bd5"/>
<line x1="566.00" y1="564.60" x2="504.59" y2="533.35" stroke="#5b9bd5" stroke-width="1.6" />
<polygon points="498.80,530.40 507.12,530.59 503.85,537.01" fill="#5b9bd5"/>
<line x1="566.00" y1="564.60" x2="543.14" y2="559.51" stroke="#5b9bd5" stroke-width="1.6" />
<polygon points="536.80,558.10 544.90,556.22 543.34,563.24" fill="#5b9bd5"/>
<line x1="566.00" y1="564.60" x2="575.65" y2="547.93" stroke="#5b9bd5" stroke-width="1.6" />
<polygon points="578.90,542.30 578.26,550.59 572.03,546.99" fill="#5b9bd5"/>
<text x="316.1" y="655.1" font-size="11.4" fill="#111" font-weight="bold" textLength="95.0" lengthAdjust="spacingAndGlyphs" >PC2 Loading plot</text>
<line x1="15.00" y1="779.50" x2="660.00" y2="779.50" stroke="#a6a6a6" stroke-width="1" />
<line x1="659.60" y1="675.90" x2="659.60" y2="918.00" stroke="#a6a6a6" stroke-width="1" />
<polyline points="15.5,777.9 16.4,781.3 17.6,780.4 18.5,775.3 19.3,777.0 20.2,774.9 21.4,777.5 22.3,777.0 23.1,772.8 24.0,774.1 24.8,771.5 25.7,773.2 26.5,780.4 27.4,788.9 28.2,782.1 29.3,777.9 30.3,774.1 31.2,775.3 32.2,776.6 33.3,774.5 34.6,773.6 35.8,775.3 37.1,780.4 38.4,786.4 39.2,789.7 40.1,786.4 40.9,783.0 41.8,777.9 42.6,774.5 43.9,771.5 44.7,773.2 45.6,781.3 46.4,786.8 47.3,779.6 48.6,782.1 49.4,780.4 50.3,777.0 51.5,773.6 52.8,774.1 54.1,776.2 55.3,777.5 56.6,779.6 57.9,783.8 58.7,786.4 59.6,781.3 60.8,783.8 61.9,780.4 62.9,783.0 64.2,776.2 65.5,770.7 66.8,771.1 68.1,772.8 69.4,774.0 70.8,775.9 72.3,777.4 73.7,775.0 75.2,775.9 76.7,773.0 78.1,775.0 79.6,774.0 80.5,776.9 81.5,781.7 82.5,776.9 83.4,780.8 84.4,772.0 85.0,770.1 85.5,798.3 85.9,771.0 86.8,764.8 87.6,817.7 88.0,768.0 88.6,765.2 89.7,817.7 90.1,768.0 90.6,767.2 91.3,772.0 91.9,799.2 92.4,773.0 93.6,771.1 95.1,768.2 96.6,766.7 98.0,769.1 99.5,774.0 100.9,775.0 102.4,774.0 103.8,773.5 105.3,771.1 106.7,772.0 108.2,774.0 109.7,775.0 110.6,775.9 111.6,770.1 112.6,761.8 113.5,769.1 114.3,776.9 115.0,784.7 115.7,778.8 116.5,752.6 117.0,839.7 117.9,778.8 118.9,776.9 119.9,775.0 120.8,771.1 121.8,779.8 122.9,770.1 123.9,765.7 124.9,772.0 125.8,769.1 127.3,771.1 128.7,778.8 129.7,771.1 131.2,767.7 132.6,770.1 134.1,774.0 135.5,771.1 137.0,772.0 138.4,773.0 139.4,776.9 139.9,793.4 140.6,781.7 141.4,808.0 142.1,769.1 142.8,790.5 143.5,776.9 144.3,764.3 145.0,771.1 145.7,776.9 146.7,766.2 147.7,769.1 148.6,766.2 149.6,771.1 150.6,768.2 151.6,764.3 152.5,769.1 153.5,768.2 154.5,770.1 155.4,775.0 156.4,783.7 157.4,777.9 158.3,795.3 159.3,778.8 160.3,793.4 161.3,774.0 162.2,782.7 163.2,772.0 164.2,769.1 165.1,776.9 166.1,768.2 167.6,770.1 169.0,768.2 170.5,771.1 171.9,771.1 172.9,781.7 173.9,771.1 174.9,769.1 175.8,799.2 176.5,773.0 177.8,771.1 179.2,770.1 181.5,768.8 184.7,764.8 186.4,768.2 188.2,766.1 189.2,766.8 190.3,773.1 191.4,781.6 193.1,755.5 193.5,836.6 194.3,775.0 195.4,741.0 195.8,863.3 196.6,775.0 197.6,743.8 198.1,842.9 198.8,775.0 199.5,742.1 199.9,790.0 200.4,756.2 202.0,764.7 204.1,764.3 206.9,766.1 209.4,767.8 210.1,771.0 212.5,774.2 214.7,778.8 216.1,780.9 216.8,784.4 217.6,745.2 218.3,851.2 219.0,775.0 219.7,736.1 220.9,867.7 221.6,775.0 222.3,750.2 222.9,841.0 223.5,790.0 224.5,788.7 225.6,766.8 226.7,770.3 227.4,774.5 227.9,787.3 228.8,773.1 229.8,766.8 231.6,769.6 233.0,771.0 234.4,769.6 235.7,769.9 236.6,769.8 237.4,771.0 238.2,771.7 239.1,772.2 239.9,771.6 240.8,771.6 241.6,778.4 242.5,772.2 243.3,772.4 244.2,772.2 245.1,773.6 245.9,774.4 246.8,775.1 247.6,777.8 248.4,778.3 249.3,781.2 250.2,781.8 251.0,780.7 252.6,776.7 253.6,765.4 254.1,789.7 254.7,764.8 255.3,842.4 255.8,774.4 257.0,773.3 258.1,777.8 259.2,775.0 260.6,780.1 261.7,775.0 263.1,777.8 264.5,775.0 265.7,777.3 266.8,785.8 267.9,780.1 269.1,786.9 270.2,781.2 271.3,782.4 272.5,780.7 274.2,781.2 275.3,783.5 276.4,782.4 325.7,786.7 327.6,788.6 329.6,787.3 331.5,784.8 333.4,782.9 335.3,783.5 337.2,782.9 338.7,784.8 339.5,791.1 340.4,785.4 341.6,798.1 342.5,786.7 343.5,796.2 344.3,805.1 345.1,785.4 346.1,789.2 347.1,784.1 348.0,791.8 348.9,781.6 349.9,764.4 350.6,781.0 351.8,777.8 353.1,785.4 354.3,781.6 355.6,780.3 356.9,771.4 358.1,774.0 359.0,770.6 359.8,768.3 361.3,772.7 362.2,772.7 363.2,774.0 364.0,777.7 364.9,779.1 366.0,778.7 367.5,783.6 369.5,787.6 371.4,792.0 372.9,786.6 374.4,778.7 375.4,772.7 376.4,771.8 377.4,766.6 378.4,769.8 379.3,776.7 380.8,778.7 382.3,779.7 383.8,780.7 385.3,781.7 386.8,783.6 388.2,785.6 389.2,793.5 390.2,784.6 390.9,791.5 391.5,800.0 392.2,782.6 392.7,772.3 393.5,795.5 394.2,779.7 394.9,775.7 395.7,784.6 396.5,774.7 397.4,779.7 398.4,773.7 399.1,787.6 400.1,779.7 401.1,785.6 402.1,781.7 403.1,778.7 404.1,775.7 405.4,772.7 406.5,770.8 407.5,775.7 408.5,776.7 410.0,772.7 411.5,770.8 413.0,770.3 414.0,772.7 415.4,775.2 416.9,773.2 418.9,772.7 421.4,770.8 423.4,772.3 424.8,774.7 425.8,787.1 426.8,777.7 428.3,779.7 429.8,777.7 431.0,775.6 432.5,776.6 434.0,774.6 434.9,774.3 435.9,774.1 436.9,775.4 437.9,775.1 438.9,774.8 439.9,774.6 440.9,774.9 441.9,774.6 442.9,773.5 443.8,774.1 444.8,774.7 445.8,774.6 446.8,776.0 447.8,775.6 448.8,776.2 449.8,776.6 450.8,777.6 451.6,782.0 452.3,778.1 453.2,776.6 454.2,778.6 455.2,783.5 456.2,781.5 457.2,783.5 458.2,780.6 459.2,781.5 460.2,779.6 461.5,777.6 462.6,776.6 464.1,777.6 465.1,781.5 466.4,767.7 467.6,771.7 469.6,778.6 471.5,782.5 473.5,786.0 475.0,788.5 476.0,779.6 477.3,767.7 478.2,763.7 479.5,766.2 480.9,766.2 482.4,768.2 484.4,770.7 486.4,772.6 487.9,774.2 489.4,774.7 490.8,776.6 491.6,781.5 492.3,776.6 492.8,805.0 493.3,780.0 493.7,807.0 494.1,781.0 494.5,806.0 495.2,777.6 496.2,779.5 497.1,775.6 498.6,774.2 500.5,775.1 502.5,777.6 504.4,780.5 505.9,784.4 507.8,787.3 509.3,789.2 510.7,788.3 511.7,786.3 512.7,789.2 513.6,790.2 514.6,769.8 515.0,882.0 515.6,790.0 516.1,776.6 516.6,860.0 517.1,800.0 517.5,889.2 518.0,790.0 518.5,793.1 519.8,788.3 520.7,790.2 521.7,797.0 522.4,778.5 523.1,749.4 523.8,736.8 524.8,747.5 525.8,761.1 526.7,767.9 528.2,772.7 529.7,775.1 531.6,776.1 533.1,777.1 534.0,778.5 534.7,786.3 535.3,797.0 536.0,786.3 536.7,794.1 537.4,786.3 538.2,802.8 538.9,777.6 539.6,776.6 540.3,794.1 540.8,777.3 541.7,776.0 542.5,776.2 543.4,775.2 544.2,775.4 545.1,774.7 546.0,773.5 546.8,774.3 547.6,774.5 548.5,773.5 549.4,773.3 550.2,772.6 551.4,772.2 552.7,773.5 553.5,773.2 554.4,773.9 555.2,772.8 556.1,773.9 557.4,774.3 558.2,778.1 558.6,785.8 559.3,775.6 560.2,785.8 561.0,778.1 561.6,786.2 562.2,774.3 563.1,782.4 563.7,776.4 564.4,782.4 565.0,774.7 565.8,779.8 566.7,777.3 567.5,789.2 568.2,782.4 569.0,790.8 569.7,773.9 570.5,791.7 571.2,787.5 571.8,792.5 572.2,767.1 573.1,775.6 573.7,785.8 574.3,769.7 574.9,784.1 575.6,771.4 576.6,780.7 577.7,787.5 578.8,792.5 579.8,795.9 580.7,790.8 581.5,775.6 582.4,762.9 583.2,765.4 583.9,762.0 584.5,767.1 585.1,758.6 585.8,762.9 586.6,773.9 587.5,777.3 588.7,779.0 590.0,779.8 591.3,780.3 592.5,779.0 594.2,778.6 595.9,777.7 597.0,778.1 598.0,776.8 599.0,776.2 599.9,776.3 600.9,775.3 601.9,776.0 602.9,775.5 603.9,774.8 604.9,775.6 605.9,774.2 606.9,774.3 607.9,775.0 608.8,774.2 609.8,774.3 610.8,775.5 611.8,775.5 612.8,774.8 613.8,774.2 614.8,774.6 615.8,775.8 616.8,775.3 617.7,777.3 618.7,776.3 619.7,776.5 620.7,777.3 621.7,777.3 622.7,777.0 623.7,777.6 624.7,777.7 625.7,778.1 626.6,778.7 627.6,779.7 628.6,779.6 629.6,779.2 630.6,778.7 631.6,780.2 632.6,780.1 633.6,780.2 634.6,781.7 635.6,781.2 636.6,781.2 637.5,780.7 638.5,778.7 639.5,780.4 640.5,781.2 641.5,779.6 642.5,780.4 643.5,778.7 644.5,779.5 645.4,779.0 646.4,777.7 647.4,778.0 648.4,778.5 649.4,778.2 650.4,777.5 651.4,779.0 652.4,778.2 653.4,778.9 654.3,778.7 655.3,779.7 656.3,778.3 657.3,779.9 658.3,778.7 659.8,778.7" fill="none" stroke="#5b9bd5" stroke-width="1.5" stroke-linejoin="round"/>
<text x="671.9" y="680.0" font-size="11.4" fill="#222" stroke="#222" stroke-width="0.25" >0,15</text>
<text x="671.9" y="714.5" font-size="11.4" fill="#222" stroke="#222" stroke-width="0.25" >0,1</text>
<text x="671.9" y="749.1" font-size="11.4" fill="#222" stroke="#222" stroke-width="0.25" >0,05</text>
<text x="671.9" y="783.7" font-size="11.4" fill="#222" stroke="#222" stroke-width="0.25" >0</text>
<text x="671.9" y="818.3" font-size="11.4" fill="#222" stroke="#222" stroke-width="0.25" >-0,05</text>
<text x="671.9" y="852.9" font-size="11.4" fill="#222" stroke="#222" stroke-width="0.25" >-0,1</text>
<text x="671.9" y="887.4" font-size="11.4" fill="#222" stroke="#222" stroke-width="0.25" >-0,15</text>
<text x="671.9" y="922.0" font-size="11.4" fill="#222" stroke="#222" stroke-width="0.25" >-0,2</text>
<text x="46.2" y="800.4" font-size="11.3" fill="#222" stroke="#222" stroke-width="0.25" text-anchor="middle" >4,4</text>
<text x="122.6" y="800.4" font-size="11.3" fill="#222" stroke="#222" stroke-width="0.25" text-anchor="middle" >3,9</text>
<text x="199.6" y="800.4" font-size="11.3" fill="#222" stroke="#222" stroke-width="0.25" text-anchor="middle" >3,4</text>
<text x="276.5" y="800.4" font-size="11.3" fill="#222" stroke="#222" stroke-width="0.25" text-anchor="middle" >2,9</text>
<text x="352.8" y="800.4" font-size="11.3" fill="#222" stroke="#222" stroke-width="0.25" text-anchor="middle" >2,4</text>
<text x="429.5" y="800.4" font-size="11.3" fill="#222" stroke="#222" stroke-width="0.25" text-anchor="middle" >1,9</text>
<text x="506.6" y="800.4" font-size="11.3" fill="#222" stroke="#222" stroke-width="0.25" text-anchor="middle" >1,4</text>
<text x="583.0" y="800.4" font-size="11.3" fill="#222" stroke="#222" stroke-width="0.25" text-anchor="middle" >0,9</text>
<text x="659.5" y="800.4" font-size="11.3" fill="#222" stroke="#222" stroke-width="0.25" text-anchor="middle" >0,4</text>
<text x="37.8" y="882.5" font-size="10.6" fill="#222" stroke="#222" stroke-width="0.25" textLength="33.9" lengthAdjust="spacingAndGlyphs" >Lactate</text>
<text x="147.8" y="832.5" font-size="10.6" fill="#222" stroke="#222" stroke-width="0.25" textLength="34.3" lengthAdjust="spacingAndGlyphs" >Glycine</text>
<text x="120.8" y="906.8" font-size="10.6" fill="#222" stroke="#222" stroke-width="0.25" textLength="92.9" lengthAdjust="spacingAndGlyphs" >Creatine Phosphate</text>
<text x="231.7" y="909.8" font-size="10.6" fill="#222" stroke="#222" stroke-width="0.25" textLength="35.3" lengthAdjust="spacingAndGlyphs" >Taurine</text>
<text x="459.1" y="840.9" font-size="10.6" fill="#222" stroke="#222" stroke-width="0.25" textLength="35.1" lengthAdjust="spacingAndGlyphs" >Alanine</text>
<text x="562.8" y="889.9" font-size="10.6" fill="#222" stroke="#222" stroke-width="0.25" textLength="34.1" lengthAdjust="spacingAndGlyphs" >Lactate</text>
<line x1="60.30" y1="866.40" x2="75.85" y2="831.54" stroke="#5b9bd5" stroke-width="1.6" />
<polygon points="78.50,825.60 78.73,833.92 72.16,830.98" fill="#5b9bd5"/>
<line x1="172.00" y1="824.20" x2="175.51" y2="809.33" stroke="#5b9bd5" stroke-width="1.6" />
<polygon points="177.00,803.00 178.78,811.13 171.77,809.47" fill="#5b9bd5"/>
<line x1="182.60" y1="890.30" x2="128.41" y2="845.54" stroke="#5b9bd5" stroke-width="1.6" />
<polygon points="123.40,841.40 131.48,843.40 126.89,848.95" fill="#5b9bd5"/>
<line x1="182.60" y1="890.30" x2="246.41" y2="852.42" stroke="#5b9bd5" stroke-width="1.6" />
<polygon points="252.00,849.10 247.39,856.02 243.71,849.83" fill="#5b9bd5"/>
<line x1="265.30" y1="893.60" x2="211.83" y2="860.61" stroke="#5b9bd5" stroke-width="1.6" />
<polygon points="206.30,857.20 214.57,858.07 210.79,864.20" fill="#5b9bd5"/>
<line x1="265.30" y1="893.60" x2="231.36" y2="854.51" stroke="#5b9bd5" stroke-width="1.6" />
<polygon points="227.10,849.60 234.74,852.90 229.30,857.62" fill="#5b9bd5"/>
<line x1="476.90" y1="825.10" x2="491.55" y2="808.83" stroke="#5b9bd5" stroke-width="1.6" />
<polygon points="495.90,804.00 493.56,811.98 488.21,807.16" fill="#5b9bd5"/>
<line x1="576.50" y1="872.60" x2="538.92" y2="859.10" stroke="#5b9bd5" stroke-width="1.6" />
<polygon points="532.80,856.90 541.08,856.05 538.64,862.82" fill="#5b9bd5"/>
<line x1="1.00" y1="1.50" x2="707.00" y2="1.50" stroke="#444" stroke-width="2" />
<line x1="1.50" y1="1.00" x2="1.50" y2="310.00" stroke="#999" stroke-width="1" />
<line x1="1.60" y1="310.00" x2="1.60" y2="926.00" stroke="#3a3a3a" stroke-width="1.2" />
<line x1="705.80" y1="1.00" x2="705.80" y2="926.00" stroke="#333" stroke-width="1.8" />
<line x1="1.00" y1="925.00" x2="707.00" y2="925.00" stroke="#333" stroke-width="2" />
<line x1="353.30" y1="2.00" x2="353.30" y2="310.00" stroke="#000" stroke-width="1.3" />
<line x1="1.00" y1="310.00" x2="707.00" y2="310.00" stroke="#000" stroke-width="2" />
<line x1="1.00" y1="618.00" x2="707.00" y2="618.00" stroke="#000" stroke-width="2" />
</svg>
</body></html>
